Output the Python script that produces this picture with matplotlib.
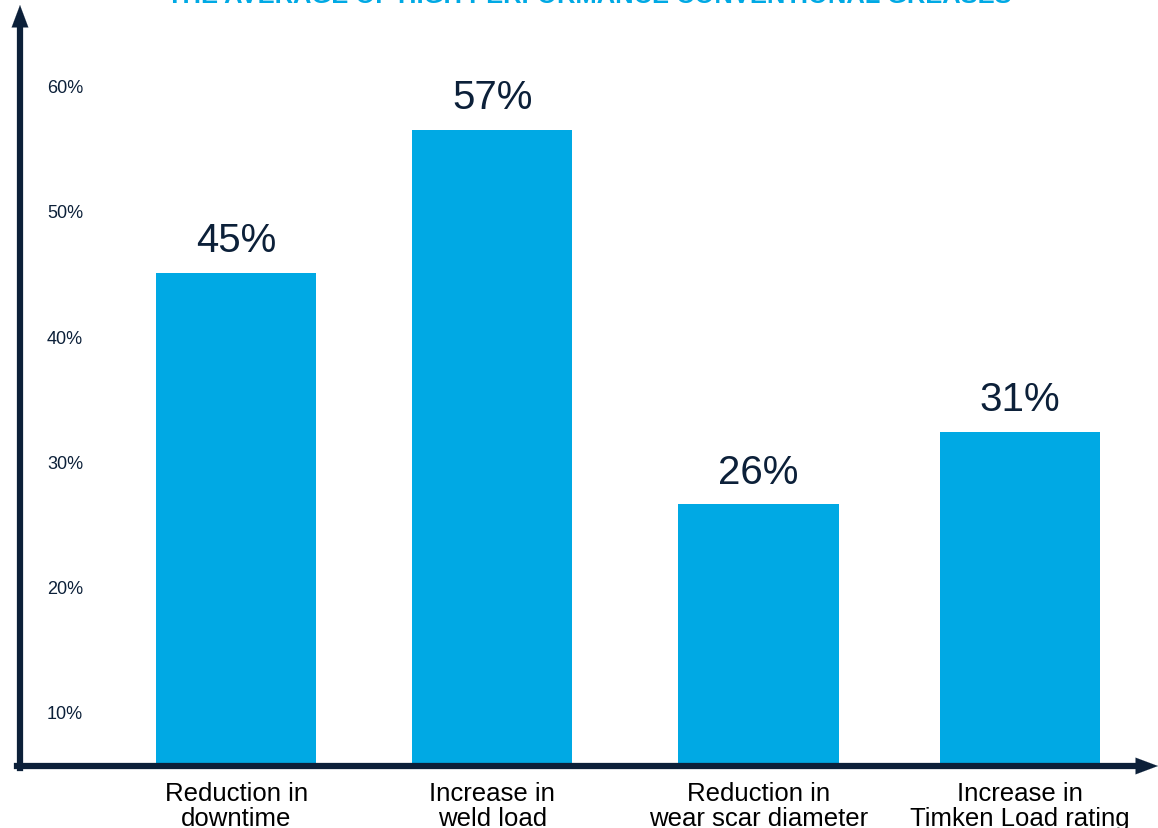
import matplotlib.pyplot as plt
from matplotlib import font_manager

# data
categories = ['Reduction in\ndowntime', 'Increase in\nweld load',
              'Reduction in\nwear scar diameter', 'Increase in\nTimken Load rating']
values = [45.2, 56.6, 26.7, 32.5]
value_labels = ['45%', '57%', '26%', '31%']
tick_values = [10, 20, 30, 40, 50, 60]
tick_labels = ['10%', '20%', '30%', '40%', '50%', '60%']
title = 'THE AVERAGE OF HIGH PERFORMANCE CONVENTIONAL GREASES'

blue = '#00a9e4'
navy = '#0c2039'

names = {f.name for f in font_manager.fontManager.ttflist}
narrow = 'Liberation Sans Narrow' if 'Liberation Sans Narrow' in names else 'Liberation Sans'
plt.rcParams['font.family'] = ['Liberation Sans', 'DejaVu Sans']

fig = plt.figure(figsize=(11.58, 8.29), dpi=100)
ax = fig.add_axes([20 / 1158, 62 / 829, 1 - 20 / 1158, 1 - 62 / 829])

x = [0, 0.98, 2.0, 3.0]
ax.bar(x, values, width=0.613, color=blue, zorder=2)
for xi, v, lab in zip(x, values, value_labels):
    ax.annotate(lab, (xi, v), xytext=(0, 10), textcoords='offset points',
                ha='center', va='bottom', fontsize=29, color=navy)

ax.set_xlim(-0.828, 3.53)
ax.set_ylim(5.8, 67.1)
for s in ax.spines.values():
    s.set_visible(False)
ax.set_xticks([])
ax.set_yticks([])

# y tick labels sit inside the axis
for t, lab in zip(tick_values, tick_labels):
    ax.text(27 / 1138, t, lab, transform=ax.get_yaxis_transform(),
            ha='left', va='center', fontsize=13, color=navy)

# category labels under the axis
for xi, c in zip(x, categories):
    ax.annotate(c, (xi, 5.8), xytext=(0, -11), textcoords='offset points',
                ha='center', va='top', fontsize=18.5, color='black',
                linespacing=1.02, annotation_clip=False)

# arrows for the axes
fig.add_artist(plt.Line2D([17 / 1158, 1140 / 1158], [62 / 829, 62 / 829],
                          color=navy, lw=4.5, transform=fig.transFigure))
fig.add_artist(plt.Line2D([20 / 1158, 20 / 1158], [60 / 829, 800 / 829],
                          color=navy, lw=4.5, transform=fig.transFigure))
ax.annotate('', xy=(1158 / 1158, 62 / 829), xytext=(1120 / 1158, 62 / 829),
            xycoords='figure fraction', textcoords='figure fraction',
            arrowprops=dict(arrowstyle='-|>,head_length=1.6,head_width=0.6',
                            color=navy, lw=0.1, shrinkA=0, shrinkB=0))
ax.annotate('', xy=(20 / 1158, 823 / 829), xytext=(20 / 1158, 780 / 829),
            xycoords='figure fraction', textcoords='figure fraction',
            arrowprops=dict(arrowstyle='-|>,head_length=1.6,head_width=0.6',
                            color=navy, lw=0.1, shrinkA=0, shrinkB=0))

fig.text(589 / 1158, 833 / 829, title, ha='center', va='center',
         fontsize=18.4, fontweight='bold', family=narrow, color=blue)

fig.savefig('out.png', dpi=100)
